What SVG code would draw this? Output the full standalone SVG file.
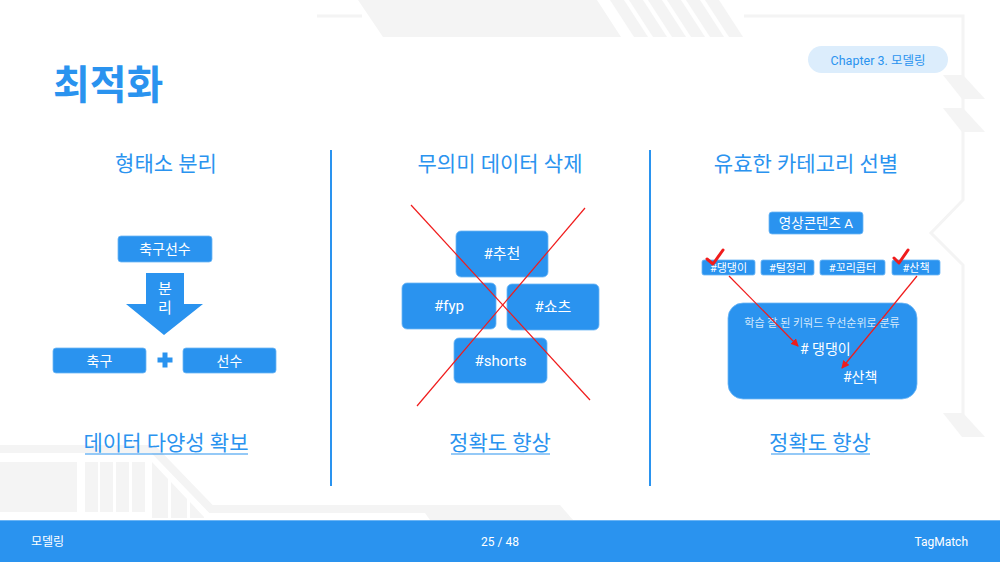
<svg xmlns="http://www.w3.org/2000/svg" width="1000" height="562" viewBox="0 0 1000 562">
<defs>
<style>
.t{font-family:Roboto,"Noto Sans CJK KR","Noto Sans",sans-serif}
.deco{fill:#f4f4f4}
.decoline{fill:none;stroke:#f4f4f4;stroke-width:3}
.box{fill:#2a93ef;stroke:#6db6f5;stroke-width:0.8}
.wt{fill:#ffffff;text-anchor:middle}
.hd{fill:#2a93ef;font-size:21px;text-anchor:middle}
.red{stroke:#f01c1c;stroke-width:1.2;fill:none}
.chk{stroke:#f01c1c;stroke-width:3;fill:none;stroke-linecap:round;stroke-linejoin:round}
.div{stroke:#2a93ef;stroke-width:2}
</style>
<marker id="ah" markerWidth="8" markerHeight="8" refX="7" refY="4" orient="auto" markerUnits="userSpaceOnUse">
<path d="M0,0 L8,4 L0,8 z" fill="#f01c1c"/>
</marker>
</defs>
<rect width="1000" height="562" fill="#ffffff"/>

<!-- background decorations -->
<g id="decorations">
<line x1="317" y1="16" x2="362" y2="16" class="decoline"/>
<polygon class="deco" points="358,0 597,0 621,37 383,37"/>
<polygon class="deco" points="610,0 624,0 648,37 634,37"/>
<polygon class="deco" points="629,0 643,0 667,37 653,37"/>
<polygon class="deco" points="648,0 662,0 686,37 672,37"/>
<polygon class="deco" points="667,0 681,0 705,37 691,37"/>
<polygon class="deco" points="686,0 700,0 724,37 710,37"/>
<polygon class="deco" points="705,0 719,0 743,37 729,37"/>
<polyline class="decoline" points="744,16 963,16 963,200 931,233 963,265 963,420"/>
<polygon class="deco" points="943,75 963,75 985,99 962,99"/>
<polygon class="deco" points="943,108 963,108 985,132 962,132"/>
<polygon class="deco" points="943,413 963,413 985,437 962,437"/>
<polyline points="0,449 153,449 211,509 560,509" fill="none" stroke="#f4f4f4" stroke-width="8"/>
<polygon class="deco" points="560,505 573,520 560,520"/>
<polygon class="deco" points="425,513 560,513 573,520 430,520"/>
<rect class="deco" x="0" y="462" width="77" height="50"/>
<rect class="deco" x="85" y="462" width="13" height="50"/>
<rect class="deco" x="100" y="462" width="13" height="50"/>
<rect class="deco" x="116" y="462" width="13" height="50"/>
<rect class="deco" x="132" y="462" width="13" height="50"/>
<polygon class="deco" points="152,462 168,479 168,518 152,518"/>
<polygon class="deco" points="171,482 187,499 187,518 171,518"/>
<polygon class="deco" points="190,502 204,517 204,518 190,518"/>
</g>

<!-- title & chapter -->
<text class="t" x="53" y="99" font-size="40" font-weight="bold" fill="#2a93ef">최적화</text>
<g id="chapter">
<rect x="808" y="46" width="140" height="27" rx="13.5" fill="#dcedfc"/>
<text class="t" x="878" y="64.5" font-size="12.5" fill="#2a93ef" text-anchor="middle">Chapter 3.  모델링</text>
</g>

<!-- dividers -->
<line class="div" x1="331" y1="150" x2="331" y2="486"/>
<line class="div" x1="650" y1="150" x2="650" y2="486"/>

<!-- headers -->
<text class="t hd" x="166" y="171">형태소 분리</text>
<text class="t hd" x="500" y="171">무의미 데이터 삭제</text>
<text class="t hd" x="806" y="171">유효한 카테고리 선별</text>

<!-- left section -->
<g id="node-soccer-player">
<rect class="box" x="118" y="236" width="94" height="26" rx="3"/>
<text class="t wt" x="165" y="254" font-size="14">축구선수</text>
</g>
<g id="node-split-arrow">
<polygon fill="#2a93ef" points="146,273 184,273 184,304 203,304 164,335 126,304 146,304"/>
<text class="t wt" x="165" y="294" font-size="15">분</text>
<text class="t wt" x="165" y="313" font-size="15">리</text>
</g>
<g id="node-soccer">
<rect class="box" x="53" y="348" width="93" height="25" rx="3"/>
<text class="t wt" x="99.5" y="365.5" font-size="14">축구</text>
</g>
<g id="node-plus">
<rect x="157.5" y="357.5" width="15" height="5" fill="#2a93ef"/>
<rect x="162.5" y="352.5" width="5" height="15" fill="#2a93ef"/>
</g>
<g id="node-player">
<rect class="box" x="183" y="348" width="93" height="25" rx="3"/>
<text class="t wt" x="229.5" y="365.5" font-size="14">선수</text>
</g>

<!-- middle section -->
<g id="node-tag-recommend">
<rect class="box" x="456" y="231" width="92" height="46" rx="5"/>
<text class="t wt" x="502" y="259" font-size="15">#추천</text>
</g>
<g id="node-tag-fyp">
<rect class="box" x="402" y="283" width="94" height="46" rx="5"/>
<text class="t wt" x="449" y="311" font-size="15">#fyp</text>
</g>
<g id="node-tag-shorts-kr">
<rect class="box" x="507" y="284" width="92" height="46" rx="5"/>
<text class="t wt" x="553" y="312" font-size="15">#쇼츠</text>
</g>
<g id="node-tag-shorts">
<rect class="box" x="454" y="338" width="93" height="45" rx="5"/>
<text class="t wt" x="500.5" y="366" font-size="15">#shorts</text>
</g>

<!-- right section -->
<g id="node-content-a">
<rect class="box" x="769" y="212" width="94" height="22" rx="3"/>
<text class="t wt" x="816" y="228" font-size="13.5">영상콘텐츠 A</text>
</g>
<g id="node-tag-dog">
<rect class="box" x="702" y="260" width="53" height="15" rx="2"/>
<text class="t wt" x="728.5" y="272" font-size="11">#댕댕이</text>
</g>
<g id="node-tag-grooming">
<rect class="box" x="761" y="260" width="53" height="15" rx="2"/>
<text class="t wt" x="787.5" y="272" font-size="11">#털정리</text>
</g>
<g id="node-tag-tail">
<rect class="box" x="820" y="260" width="65" height="15" rx="2"/>
<text class="t wt" x="852.5" y="272" font-size="11">#꼬리콥터</text>
</g>
<g id="node-tag-walk">
<rect class="box" x="892" y="260" width="48" height="15" rx="2"/>
<text class="t wt" x="916" y="272" font-size="11">#산책</text>
</g>
<g id="node-priority">
<rect class="box" x="728" y="303" width="189" height="96" rx="15"/>
<text class="t" x="822" y="327" font-size="11" fill="#d4e9fc" text-anchor="middle">학습 잘 된 키워드 우선순위로 분류</text>
<text class="t" x="800" y="354" font-size="14" fill="#ffffff"># 댕댕이</text>
<text class="t" x="843" y="382" font-size="14" fill="#ffffff">#산책</text>
</g>

<!-- connectors -->
<g id="connectors">
<line class="red" x1="411" y1="205" x2="590" y2="400"/>
<line class="red" x1="585" y1="208" x2="417" y2="406"/>
<polyline class="chk" points="707,259 713,264 723,250"/>
<polyline class="chk" points="894,258 899,263 908,250"/>
<line class="red" x1="729" y1="276" x2="798" y2="346" marker-end="url(#ah)"/>
<line class="red" x1="917" y1="276" x2="842" y2="368" marker-end="url(#ah)"/>
</g>

<!-- bottom labels -->
<g id="labels">
<text class="t hd" x="166" y="450">데이터 다양성 확보</text>
<line x1="85" y1="454" x2="248" y2="454" stroke="#2a93ef" stroke-width="1.2"/>
<text class="t hd" x="500" y="450">정확도 향상</text>
<line x1="451" y1="454" x2="550" y2="454" stroke="#2a93ef" stroke-width="1.2"/>
<text class="t hd" x="820" y="450">정확도 향상</text>
<line x1="771" y1="454" x2="870" y2="454" stroke="#2a93ef" stroke-width="1.2"/>
</g>

<!-- footer -->
<g id="footer">
<rect x="0" y="520" width="1000" height="42" fill="#2a93ef"/>
<line x1="0" y1="520.5" x2="1000" y2="520.5" stroke="#6ab4f5" stroke-width="1"/>
<text class="t" x="31" y="546" font-size="12" fill="#ffffff">모델링</text>
<text class="t" x="500" y="546" font-size="12" fill="#ffffff" text-anchor="middle">25 / 48</text>
<text class="t" x="968" y="546" font-size="12" fill="#ffffff" text-anchor="end">TagMatch</text>
</g>
</svg>
